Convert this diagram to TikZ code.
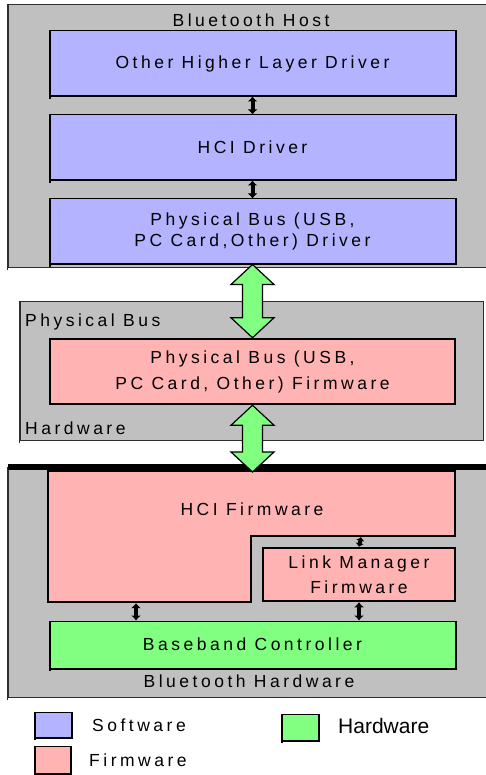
\documentclass[tikz,border=0pt]{standalone}
\usepackage{fontspec}
\setmainfont{Liberation Sans}[LetterSpace=20]
\newfontfamily\plainsans{Liberation Sans}
\usetikzlibrary{arrows.meta,calc}
\definecolor{panelgray}{RGB}{192,192,192}
\definecolor{swblue}{RGB}{179,179,255}
\definecolor{fwpink}{RGB}{255,179,179}
\definecolor{hwgreen}{RGB}{128,255,128}
\definecolor{edgegray}{RGB}{45,45,45}

% wide green two-way arrow between two points (top tip, bottom tip)
\newcommand\busarrow[2]{%
  \draw[bigarrow] let \p1=(#1), \p2=(#2) in
    (\x1,\y1) -- (\x1+21.5pt,\y1-20pt) -- (\x1+10pt,\y1-20pt)
    -- (\x1+10pt,\y2+20pt) -- (\x1+21.5pt,\y2+20pt) -- (\x1,\y2)
    -- (\x1-21.5pt,\y2+20pt) -- (\x1-10pt,\y2+20pt)
    -- (\x1-10pt,\y1-20pt) -- (\x1-21.5pt,\y1-20pt) -- cycle;}

\begin{document}
\begin{tikzpicture}[x=1pt,y=-1pt,
  font=\fontsize{17.5}{21}\selectfont,
  container/.style={draw=edgegray, line width=0.8pt, fill=panelgray, inner sep=0pt},
  layerbox/.style={draw=black, line width=1pt, inner sep=0pt, align=center},
  fwbox/.style={draw=black, line width=2.5pt, fill=fwpink, inner sep=0pt, align=center},
  plaintext/.style={inner sep=0pt},
  smalllink/.style={line width=4pt, {Latex[length=5pt,width=10pt]}-{Latex[length=5pt,width=10pt]}},
  bigarrow/.style={draw=black, line width=1.2pt, fill=hwgreen, line join=miter},
]
\useasboundingbox[fill=white] (0,0) rectangle (485,775);

% ---------- Bluetooth host ----------
\node[container, minimum width=482, minimum height=263] (host) at (249,135.5) {};
\node[plaintext, anchor=base] (hostlbl) at (251,27) {Bluetooth Host};
\node[layerbox, fill=swblue, minimum width=405, minimum height=65] (d1) at (252.5,63.5) {Other Higher Layer Driver};
\node[layerbox, fill=swblue, minimum width=405, minimum height=65] (d2) at (252.5,147.5) {HCI Driver};
\node[layerbox, fill=swblue, minimum width=405, minimum height=65] (d3) at (252.5,231.5) {Physical Bus (USB,\\PC Card,Other) Driver};

% ---------- Physical bus ----------
\node[container, minimum width=463, minimum height=139] (pbus) at (251.5,370.5) {};
\node[plaintext, anchor=base west] (pbuslbl) at (25,326) {Physical Bus};
\node[plaintext, anchor=base west] (pbushw) at (25,434) {Hardware};
\node[fwbox, minimum width=405, minimum height=65, font=\fontsize{17.5}{26}\selectfont] (pbf) at (252.5,371.5) {Physical Bus (USB,\\PC Card, Other) Firmware};

% ---------- Bluetooth hardware ----------
\node[container, minimum width=482, minimum height=230] (hw) at (249,582) {};
\draw[line width=6pt] (hw.north west) -- (hw.north east);
\node[plaintext, anchor=base] (hwlbl) at (249,687) {Bluetooth Hardware};

\draw[fill=fwpink, line width=2.5pt, line join=miter]
  (48,471) -- (455,471) -- (455,536) -- (251,536) -- (251,602) -- (48,602) -- cycle;
\node[plaintext] (hci) at (252,509) {HCI Firmware};
\coordinate (hcitop) at (252,472);
\coordinate (hcistep) at (361,537.2);
\coordinate (hcibase) at (136,603.2);

\node[fwbox, minimum width=192, minimum height=53, font=\fontsize{17.5}{25}\selectfont] (lm) at (359,574.5) {Link Manager\\Firmware};
\node[layerbox, fill=hwgreen, minimum width=405, minimum height=47] (bb) at (252.5,644.5) {Baseband Controller};

% ---------- legend ----------
\node[layerbox, fill=swblue, minimum width=36, minimum height=25] (sw) at (53,724.5) {};
\node[plaintext, anchor=base west] (swtxt) at (92,731) {Software};
\node[layerbox, fill=fwpink, minimum width=35, minimum height=27] (fw) at (52.5,759.5) {};
\node[plaintext, anchor=base west] (fwtxt) at (89,766) {Firmware};
\node[layerbox, fill=hwgreen, minimum width=36, minimum height=26] (hwl) at (300,727) {};
\node[plaintext, anchor=base west, font=\plainsans\fontsize{21}{25}\selectfont] (hwtxt) at (338,733) {Hardware};

% heavier left, bottom and right edges of the boxes
\foreach \n in {d1,d2,d3,bb,sw,fw,hwl}{
  \draw[line width=2pt] ([yshift=-2.5pt]\n.south west) -- (\n.north west);
  \draw[line width=2pt] (\n.south west) -- (\n.south east) -- (\n.north east);
}
\foreach \n in {host,pbus,hw}{
  \draw[edgegray, line width=1.6pt] ([yshift=-3pt]\n.south west) -- (\n.north west);
  \draw[edgegray, line width=1.6pt] (\n.south west) -- (\n.south east);
}

% ---------- connectors ----------
\draw[smalllink] (d1.south) -- (d2.north);
\draw[smalllink] (d2.south) -- (d3.north);
\draw[smalllink, {Latex[length=3.5pt,width=9pt]}-{Latex[length=3.5pt,width=9pt]}] (hcistep) -- (lm.north);
\draw[smalllink] (hcibase) -- (hcibase |- bb.north);
\draw[smalllink] (lm.south) -- (bb.north -| lm.south);
\busarrow{d3.south}{pbf.north}
\busarrow{pbf.south}{hcitop}
\end{tikzpicture}
\end{document}
